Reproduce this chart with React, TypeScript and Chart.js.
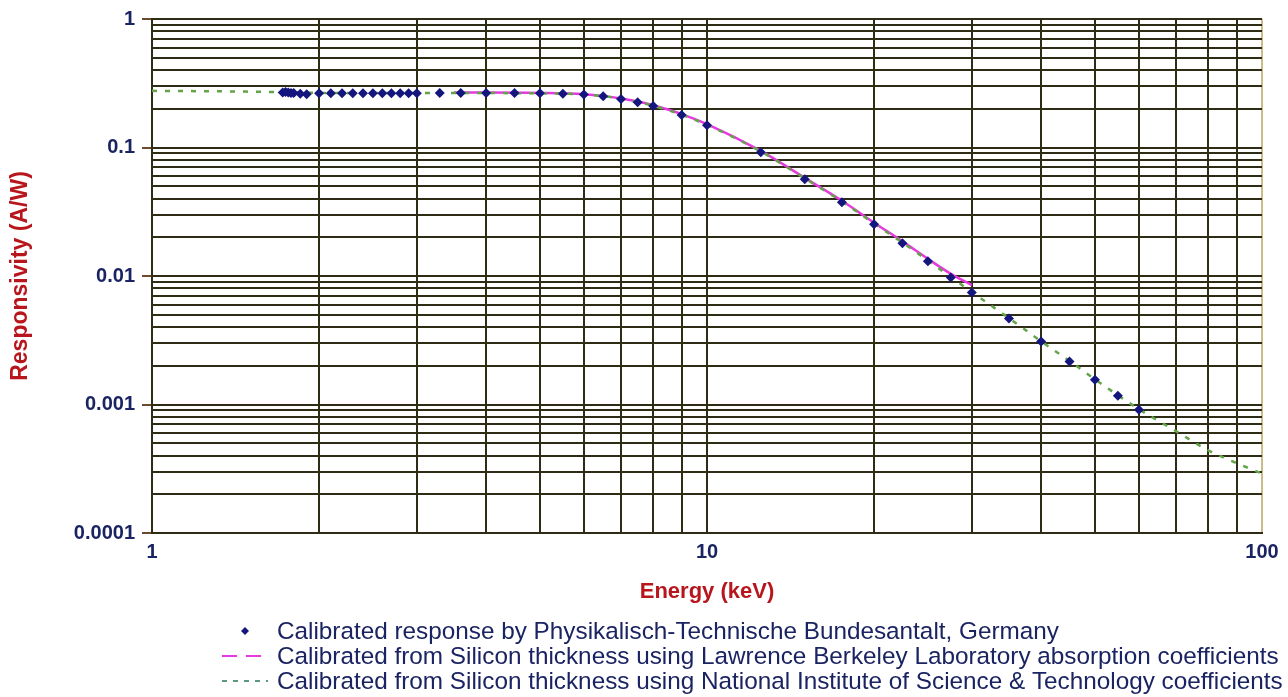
import React, { useEffect, useRef } from 'react';
import { Chart, registerables } from 'chart.js';

Chart.register(...registerables);

// Calibrated response by PTB (keV, A/W)
const ptbEnergy = [
  1.72, 1.74, 1.76, 1.78, 1.8, 1.85, 1.9,
  2.0, 2.1, 2.2, 2.3, 2.4, 2.5, 2.6, 2.7, 2.8, 2.9, 3.0,
  3.3, 3.6, 4.0, 4.5, 5.0, 5.5, 6.0, 6.5, 7.0, 7.5, 8.0, 9.0,
  10, 12.5, 15, 17.5, 20, 22.5, 25, 27.5, 30,
  35, 40, 45, 50, 55, 60,
];
const ptbResponse = [
  0.268, 0.27, 0.268, 0.266, 0.265, 0.262, 0.26,
  0.264, 0.264, 0.264, 0.264, 0.264, 0.264, 0.264, 0.264, 0.264, 0.264, 0.264,
  0.265, 0.265, 0.265, 0.265, 0.264, 0.262, 0.258, 0.25, 0.238, 0.225, 0.21, 0.179,
  0.149, 0.092, 0.0566, 0.0375, 0.0253, 0.018, 0.013, 0.00975, 0.00745,
  0.00467, 0.00309, 0.00216, 0.00156, 0.00117, 0.00091,
];

// Silicon thickness model, LBL absorption coefficients
const lblEnergy = [3.5, 4, 5, 6, 6.5, 7, 7.5, 8, 9, 10, 12.5, 15, 17.5, 20, 22.5, 25, 27.5, 30];
const lblResponse = [
  0.268, 0.268, 0.266, 0.26, 0.252, 0.241, 0.228, 0.213, 0.182, 0.152,
  0.094, 0.058, 0.0385, 0.026, 0.0186, 0.0136, 0.0104, 0.0085,
];

// Silicon thickness model, NIST coefficients
const nistEnergy = [
  1, 1.5, 1.8, 2, 3, 4, 5, 6, 6.5, 7, 7.5, 8, 9, 10, 12.5, 15, 17.5, 20,
  22.5, 25, 27.5, 30, 35, 40, 45, 50, 60, 70, 80, 90, 100,
];
const nistResponse = [
  0.276, 0.272, 0.268, 0.266, 0.265, 0.265, 0.264, 0.259, 0.251, 0.239, 0.226, 0.211, 0.18, 0.15,
  0.093, 0.0575, 0.038, 0.0256, 0.0182, 0.0132, 0.0098, 0.0075, 0.0047, 0.0031, 0.00218,
  0.00157, 0.00092, 0.00062, 0.00044, 0.00035, 0.00029,
];

const xTickLabels = ['1', '10', '100'];
const yTickLabels = ['0.0001', '0.001', '0.01', '0.1', '1'];
const seriesLabels = [
  'Calibrated response by Physikalisch-Technische Bundesantalt, Germany',
  'Calibrated from Silicon thickness using Lawrence Berkeley Laboratory absorption coefficients',
  'Calibrated from Silicon thickness using National Institute of Science & Technology coefficients',
];

const NAVY = '#1b2462';
const RED = '#b8161d';
const GRID = '#2e2c14';
const EDGE = '#cbbd88';
const POINT = '#14167e';
const MAGENTA = '#e639e0';
const GREEN = '#62a447';
const FONT = '"Liberation Sans", Arial, Helvetica, sans-serif';

const W = 1288;
const H = 697;

const isDecade = (v: number) => {
  const l = Math.log10(v);
  return Math.abs(l - Math.round(l)) < 1e-6;
};

// 1..9 multiples of every decade between lo and hi exponents
const decadeGrid = (lo: number, hi: number) => {
  const out: { value: number }[] = [];
  for (let e = lo; e < hi; e++) {
    for (let m = 1; m <= 9; m++) out.push({ value: parseFloat((m * Math.pow(10, e)).toPrecision(6)) });
  }
  out.push({ value: Math.pow(10, hi) });
  return out;
};

const toPoints = (xs: number[], ys: number[]) => xs.map((x, i) => ({ x, y: ys[i] }));

const seriesKey = {
  id: 'seriesKey',
  afterDraw(chart: any) {
    const { ctx } = chart;
    const left = 277;
    const top = 631;
    const step = 25;
    ctx.save();
    ctx.font = `24.3px ${FONT}`;
    ctx.textBaseline = 'middle';
    ctx.textAlign = 'left';
    seriesLabels.forEach((label, i) => {
      const y = top + i * step;
      if (i === 0) {
        ctx.fillStyle = POINT;
        ctx.beginPath();
        ctx.moveTo(245, y - 4);
        ctx.lineTo(249, y);
        ctx.lineTo(245, y + 4);
        ctx.lineTo(241, y);
        ctx.closePath();
        ctx.fill();
      } else {
        ctx.strokeStyle = i === 1 ? MAGENTA : '#5c9a80';
        ctx.lineWidth = 2;
        ctx.setLineDash(i === 1 ? [15, 9] : [5, 6]);
        ctx.beginPath();
        ctx.moveTo(222, y);
        ctx.lineTo(268, y);
        ctx.stroke();
        ctx.setLineDash([]);
      }
      ctx.fillStyle = NAVY;
      ctx.fillText(label, left, y + 1);
    });
    ctx.restore();
  },
};

export default function App() {
  const ref = useRef<HTMLCanvasElement | null>(null);

  useEffect(() => {
    if (!ref.current) return;
    const chart = new Chart(ref.current, {
      type: 'line',
      data: {
        datasets: [
          {
            label: seriesLabels[0],
            data: toPoints(ptbEnergy, ptbResponse),
            showLine: false,
            pointStyle: 'rectRot',
            pointRadius: 5,
            pointBackgroundColor: POINT,
            pointBorderColor: POINT,
            pointBorderWidth: 0,
            order: 0,
          },
          {
            label: seriesLabels[2],
            data: toPoints(nistEnergy, nistResponse),
            borderColor: GREEN,
            borderWidth: 2.5,
            borderDash: [5, 8],
            pointRadius: 0,
            cubicInterpolationMode: 'monotone',
            order: 1,
          },
          {
            label: seriesLabels[1],
            data: toPoints(lblEnergy, lblResponse),
            borderColor: MAGENTA,
            borderWidth: 2.5,
            pointRadius: 0,
            cubicInterpolationMode: 'monotone',
            order: 2,
          },
        ],
      },
      options: {
        animation: false,
        responsive: false,
        devicePixelRatio: 1,
        layout: { padding: { left: 0, right: 26, top: 19, bottom: 0 } },
        plugins: { legend: { display: false }, tooltip: { enabled: false } },
        scales: {
          x: {
            type: 'logarithmic',
            min: 1,
            max: 100,
            afterBuildTicks: (s: any) => { s.ticks = decadeGrid(0, 2); },
            afterFit: (s: any) => { s.height = H - 533; },
            grid: {
              color: (c: any) => (c.tick && c.tick.value === 100 ? EDGE : GRID),
              lineWidth: 2,
              drawTicks: false,
            },
            border: { display: true, color: GRID, width: 2 },
            ticks: {
              autoSkip: false,
              maxRotation: 0,
              padding: 7,
              color: NAVY,
              font: { family: FONT, size: 20, weight: 'bold' },
              callback: (v: any) => (isDecade(Number(v)) ? xTickLabels[Math.round(Math.log10(Number(v)))] : ''),
            },
            title: {
              display: true,
              text: 'Energy (keV)',
              color: RED,
              font: { family: FONT, size: 22, weight: 'bold' },
              padding: { top: 0, bottom: 92 },
            },
          },
          y: {
            type: 'logarithmic',
            min: 0.0001,
            max: 1,
            afterBuildTicks: (s: any) => { s.ticks = decadeGrid(-4, 0); },
            afterFit: (s: any) => { s.width = 152; },
            grid: {
              color: GRID,
              lineWidth: 2,
              tickLength: 10,
              tickColor: (c: any) => (c.tick && isDecade(c.tick.value) ? '#6e4a2e' : 'rgba(0,0,0,0)'),
              tickWidth: 2,
            },
            border: { display: true, color: GRID, width: 2 },
            ticks: {
              autoSkip: false,
              padding: 7,
              color: NAVY,
              font: { family: FONT, size: 20, weight: 'bold' },
              callback: (v: any) => (isDecade(Number(v)) ? yTickLabels[Math.round(Math.log10(Number(v))) + 4] : ''),
            },
            title: {
              display: true,
              text: 'Responsivity (A/W)',
              color: RED,
              font: { family: FONT, size: 23, weight: 'bold' },
              padding: { top: 7, bottom: 0 },
            },
          },
        },
      },
      plugins: [seriesKey],
    } as any);
    return () => chart.destroy();
  }, []);

  return (
    <div style={{ position: 'absolute', left: 0, top: 0, width: W, height: H, background: '#fff' }}>
      <canvas ref={ref} width={W} height={H} style={{ width: W, height: H, display: 'block' }} />
    </div>
  );
}
